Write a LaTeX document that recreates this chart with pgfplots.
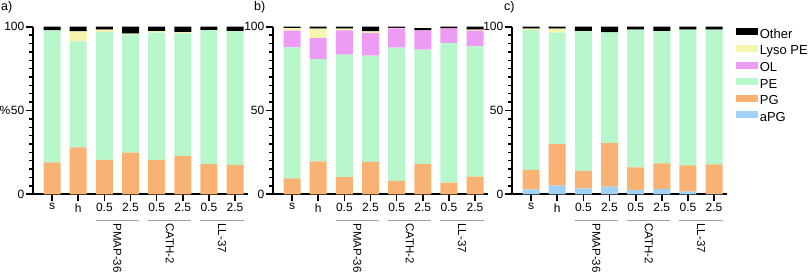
\documentclass[border=0pt]{standalone}
\usepackage{fontspec}
\setmainfont{Liberation Sans}
\usepackage{pgfplots}
\usepackage{pgfplotstable}
\pgfplotsset{compat=1.18}
\definecolor{cPE}{RGB}{184,247,204}
\definecolor{cPG}{RGB}{248,178,115}
\definecolor{caPG}{RGB}{160,210,245}
\definecolor{cOL}{RGB}{238,155,245}
\definecolor{cLy}{RGB}{245,245,175}
\definecolor{cOt}{RGB}{0,0,0}
\definecolor{cBr}{RGB}{160,160,160}

% x  aPG  PG  PE  OL  Lyso  Other
\pgfplotstableread{
x aPG PG PE OL Ly Ot
0 0 19.1 78.7 0 0 2.2
1 0 28.0 63.2 0 6.0 2.8
2 0 20.5 76.3 0 1.4 1.8
3 0 24.9 70.3 0 0.6 4.2
4 0 20.5 76.0 0 0.8 2.7
5 0 22.9 73.1 0 0.8 3.2
6 0 18.1 79.9 0 0 2.0
7 0 17.5 79.9 0 0 2.6
}\tabA
\pgfplotstableread{
x aPG PG PE OL Ly Ot
0 0 9.5 78.1 10.0 1.6 0.8
1 0 19.7 61.0 12.5 5.6 1.2
2 0 10.3 73.0 14.5 1.0 1.2
3 0 19.3 63.4 13.5 1.0 2.8
4 0 8.0 79.5 11.5 0.3 0.7
5 0 18.1 68.2 11.5 0 1.4
6 0 7.0 83.3 8.7 0 1.0
7 0 10.5 77.7 9.4 0.6 1.8
}\tabB
\pgfplotstableread{
x aPG PG PE OL Ly Ot
0 3.0 11.5 83.5 0 0.8 1.2
1 5.2 24.7 66.6 0 2.3 1.2
2 3.6 10.4 83.2 0 0.2 2.6
3 4.6 25.9 66.1 0 0 3.4
4 2.6 13.5 82.1 0 0 1.8
5 3.2 15.2 79.0 0 0 2.6
6 1.6 15.6 81.0 0 0 1.8
7 0.3 17.5 80.4 0 0 1.8
}\tabC

\tikzset{
  brk/.style={draw=cBr, line width=1.4pt},
  grp/.style={rotate=-90, anchor=west, inner sep=0pt, font=\fontsize{11.5}{13}\selectfont},
}
\pgfplotsset{
  legbox/.style={legend image code/.code={\path[##1,draw=none] (0pt,-0.5pt) rectangle (22pt,6.5pt);}},
  panel/.style={
    ybar stacked, bar width=17pt,
    scale only axis, x=26.14pt, y=1.676pt,
    xmin=-0.73, xmax=7.5, ymin=0, ymax=100,
    axis lines=left, axis line style={line width=2pt,-},
    xtick={0,...,7}, xticklabels={s,h,0.5,2.5,0.5,2.5,0.5,2.5},
    ytick={0,50,100}, minor y tick num=9,
    tick align=outside, major tick length=7pt, minor tick length=4pt,
    major tick style={line width=1.7pt, black},
    minor tick style={line width=1.4pt, black},
    /pgf/number format/assume math mode=true,
    xticklabel style={font=\fontsize{12}{14}\selectfont, inner sep=2pt},
    yticklabel style={font=\fontsize{12}{14}\selectfont, inner sep=1.5pt},
    clip=false, anchor=south west,
  },
}

\newcommand{\groups}{%
  \draw[brk] ([yshift=-26pt]axis cs:1.675,0) -- ([yshift=-26pt]axis cs:3.325,0);
  \draw[brk] ([yshift=-26pt]axis cs:3.675,0) -- ([yshift=-26pt]axis cs:5.325,0);
  \draw[brk] ([yshift=-26pt]axis cs:5.675,0) -- ([yshift=-26pt]axis cs:7.325,0);
  \node[grp] at ([yshift=-29pt]axis cs:2.5,0) {PMAP-36};
  \node[grp] at ([yshift=-29pt]axis cs:4.5,0) {CATH-2};
  \node[grp] at ([yshift=-29pt]axis cs:6.5,0) {LL-37};
}

\begin{document}
\begin{tikzpicture}
\useasboundingbox (0,0) rectangle (810pt,275pt);

% panel a
\begin{axis}[panel, at={(33pt,80.7pt)}]
\addplot[fill=caPG, draw=none] table[x=x,y=aPG]{\tabA};
\addplot[fill=cPG, draw=none] table[x=x,y=PG]{\tabA};
\addplot[fill=cPE, draw=none] table[x=x,y=PE]{\tabA};
\addplot[fill=cOL, draw=none] table[x=x,y=OL]{\tabA};
\addplot[fill=cLy, draw=none] table[x=x,y=Ly]{\tabA};
\addplot[fill=cOt, draw=none] table[x=x,y=Ot]{\tabA};
\groups
\end{axis}

% panel b
\begin{axis}[panel, at={(273pt,80.7pt)}]
\addplot[fill=caPG, draw=none] table[x=x,y=aPG]{\tabB};
\addplot[fill=cPG, draw=none] table[x=x,y=PG]{\tabB};
\addplot[fill=cPE, draw=none] table[x=x,y=PE]{\tabB};
\addplot[fill=cOL, draw=none] table[x=x,y=OL]{\tabB};
\addplot[fill=cLy, draw=none] table[x=x,y=Ly]{\tabB};
\addplot[fill=cOt, draw=none] table[x=x,y=Ot]{\tabB};
\groups
\end{axis}

% panel c
\begin{axis}[panel, at={(512pt,80.7pt)},
  reverse legend,
  legend cell align=left,
  legend style={at={(1,1)}, anchor=north west, xshift=9pt, yshift=-1pt,
    draw=none, fill=none, inner sep=0pt, row sep=2.6pt, column sep=0.5pt,
    nodes={inner sep=1pt, text height=9.5pt, text depth=2.5pt, font=\fontsize{13}{15}\selectfont}},
]
\addplot[fill=caPG, draw=none, legbox] table[x=x,y=aPG]{\tabC};
\addlegendentry{aPG}
\addplot[fill=cPG, draw=none, legbox] table[x=x,y=PG]{\tabC};
\addlegendentry{PG}
\addplot[fill=cPE, draw=none, legbox] table[x=x,y=PE]{\tabC};
\addlegendentry{PE}
\addplot[fill=cOL, draw=none, legbox] table[x=x,y=OL]{\tabC};
\addlegendentry{OL}
\addplot[fill=cLy, draw=none, legbox] table[x=x,y=Ly]{\tabC};
\addlegendentry{Lyso PE}
\addplot[fill=cOt, draw=none, legbox] table[x=x,y=Ot]{\tabC};
\addlegendentry{Other}
\groups
\end{axis}

% labels
\node[anchor=west, inner sep=0pt, font=\fontsize{12.5}{14}\selectfont] at (1pt,268pt) {a)};
\node[anchor=west, inner sep=0pt, font=\fontsize{12.5}{14}\selectfont] at (254pt,268pt) {b)};
\node[anchor=west, inner sep=0pt, font=\fontsize{12.5}{14}\selectfont] at (504pt,268pt) {c)};
\node[anchor=east, inner sep=0pt, font=\fontsize{12}{14}\selectfont] at (10.5pt,164.5pt) {\%};
\end{tikzpicture}
\end{document}
